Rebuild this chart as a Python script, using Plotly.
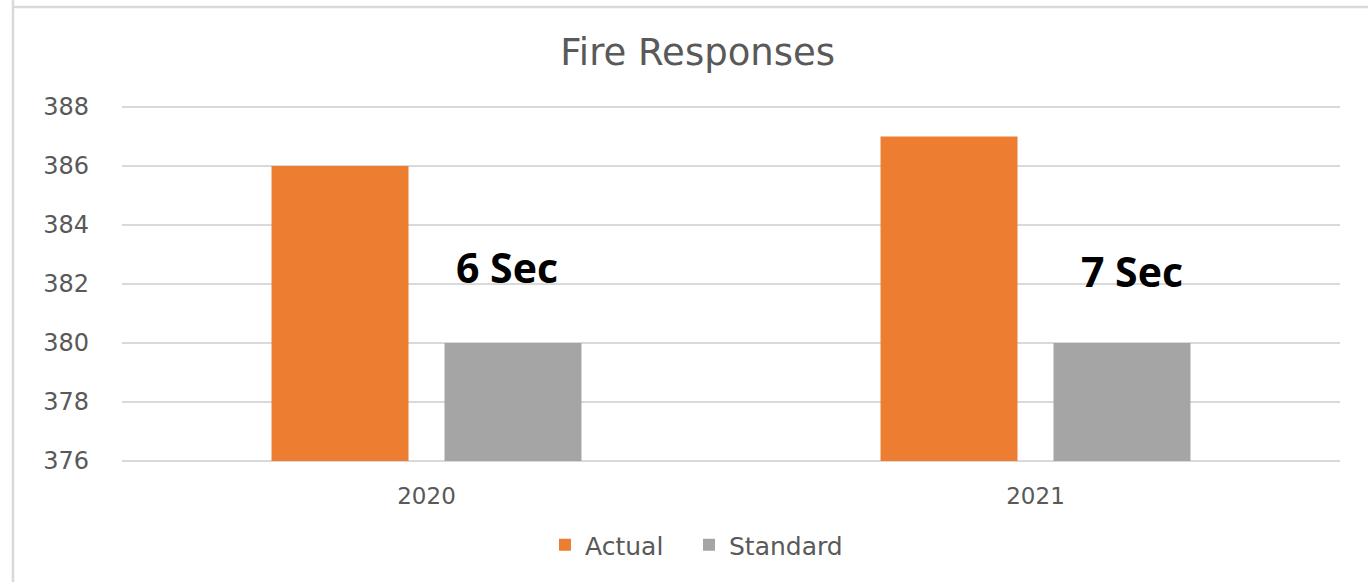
import plotly.graph_objects as go

categories = ["2020", "2021"]
actual = [386, 387]
standard = [380, 380]
labels = ["6 Sec", "7 Sec"]
label_y = [382.58, 382.45]
label_shift = [80, 96]
y_ticks = [376, 378, 380, 382, 384, 386, 388]

FONT = "DejaVu Sans, sans-serif"
BOLD = "Open Sans, sans-serif"
TXT = "#595959"

fig = go.Figure()
fig.add_trace(go.Bar(name="Actual", x=categories, y=[a - 376 for a in actual], base=376,
                     marker=dict(color="#ED7D31", line=dict(width=0)), legend="legend",
                     showlegend=True))
fig.add_trace(go.Bar(name="Standard", x=categories, y=[s - 376 for s in standard], base=376,
                     marker=dict(color="#A5A5A5", line=dict(width=0)), legend="legend2",
                     showlegend=True))

for i, (lab, ly, sh) in enumerate(zip(labels, label_y, label_shift)):
    fig.add_annotation(x=i, y=ly, xref="x", yref="y", text="<b>%s</b>" % lab,
                       showarrow=False, xshift=sh,
                       font=dict(family=BOLD, size=41, color="#000000"))

leg_common = dict(orientation="h", xanchor="left", y=-0.225, yanchor="middle",
                  font=dict(family=FONT, size=25, color=TXT), itemwidth=30,
                  bgcolor="rgba(0,0,0,0)")

# plot area: 376 at y=461px, 388 at y=107px (29.5 px per unit); range padded by 0.1
fig.update_layout(
    width=1368, height=582,
    showlegend=True,
    margin=dict(l=122, r=28, t=104, b=118),
    paper_bgcolor="white", plot_bgcolor="white",
    barmode="group", bargap=0.432, bargroupgap=0.208,
    title=dict(text="Fire Responses", x=0.51, xanchor="center", y=0.91, yanchor="middle",
               font=dict(family=FONT, size=37, color=TXT)),
    font=dict(family=FONT, color=TXT),
    legend=dict(x=0.3473, **leg_common),
    legend2=dict(x=0.4655, **leg_common),
    xaxis=dict(type="category", range=[-0.5, 1.5], autorange=False, showgrid=False, showline=False,
               ticks="", ticklabelstandoff=16, tickfont=dict(family=FONT, size=23, color=TXT)),
    yaxis=dict(range=[375.9, 388.1], tickvals=y_ticks, showgrid=True, gridcolor="#D9D9D9", gridwidth=1.5,
               zeroline=False, showline=False, ticks="", ticklabelstandoff=32,
               tickfont=dict(family=FONT, size=24, color=TXT)),
    shapes=[
        dict(type="line", xref="paper", yref="paper", x0=-0.0895, x1=-0.0895, y0=1.3, y1=-0.35,
             line=dict(color="#D9D9D9", width=2.5)),
        dict(type="line", xref="paper", yref="paper", x0=-0.0895, x1=1.03, y0=1.2695, y1=1.2695,
             line=dict(color="#D9D9D9", width=2.5)),
    ],
)

fig.write_html("out.html")
